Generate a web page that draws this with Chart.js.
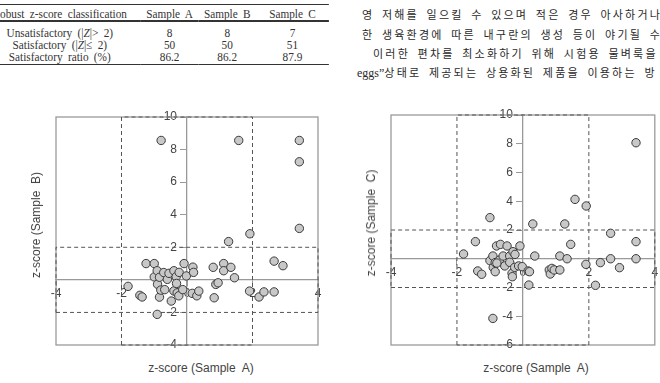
<!DOCTYPE html>
<html>
<head>
<meta charset="utf-8">
<script src="https://cdn.jsdelivr.net/npm/chart.js@4"></script>
<style>
  html, body { margin: 0; padding: 0; background: #fff; }
  body { width: 660px; height: 383px; position: relative; overflow: hidden; }

  /* summary table, top left (the scan is a little squeezed sideways) */
  #summary {
    position: absolute; left: -14px; top: 4px; width: 381px;
    transform: scaleX(0.9); transform-origin: 0 0;
    border-spacing: 0; border-top: 1px solid #333;
    font-family: "Liberation Serif", serif; font-size: 12.5px; color: #333;
    word-spacing: 2.8px; line-height: 12px;
  }
  #summary th { font-weight: normal; padding: 4px 0 0 0; line-height: 11px; border-bottom: 2px solid #333; }
  #summary td { padding: 0; text-align: center; }
  #summary tbody tr:first-child td { padding-top: 5px; }
  #summary tbody tr:last-child td { padding-bottom: 1px; border-bottom: 1.5px solid #333; }
  #summary .c1 { width: 164px; padding-right: 8px; text-align: center; }
  #summary .c2, #summary .c3 { width: 64px; }

  /* body text, top right */
  .para {
    position: absolute; white-space: nowrap;
    font-family: "Noto Sans CJK KR", sans-serif; font-size: 11px; color: #2a2a2a;
    letter-spacing: 2.2px; word-spacing: 3px; line-height: 19.5px;
  }
  .para .latin { font-family: "Liberation Serif", serif; font-size: 12px; letter-spacing: 0; }

  .plot { position: absolute; top: 100px; width: 330px; height: 260px; }
  .axis-title {
    position: absolute; white-space: pre;
    font-family: "Liberation Sans", Arial, sans-serif; font-size: 12px; color: #444;
    transform: translate(-50%, -50%);
  }
  .axis-title.vertical { transform: translate(-50%, -50%) rotate(-90deg); }
</style>
</head>
<body>

<table id="summary">
  <thead>
    <tr><th class="c1">Robust z-score classification</th><th class="c2">Sample A</th><th class="c3">Sample B</th><th>Sample C</th></tr>
  </thead>
  <tbody id="summary-body"></tbody>
</table>

<div class="para" style="left:362px; top:5px">영 저해를 일으킬 수 있으며 적은 경우 아사하거나</div>
<div class="para" style="left:362px; top:25px">한 생육환경에 따른 내구란의 생성 등이 야기될 수</div>
<div class="para" style="left:373px; top:44px">이러한 편차를 최소화하기 위해 시험용 물벼룩을 “</div>
<div class="para" style="left:357px; top:63px"><span class="latin">eggs”</span>상태로 제공되는 상용화된 제품을 이용하는 방</div>

<div class="plot" style="left:0"><canvas id="plot-b"></canvas></div>
<div class="plot" style="left:330px"><canvas id="plot-c"></canvas></div>

<div class="axis-title vertical" style="left:36px; top:225px">z-score (Sample  B)</div>
<div class="axis-title" style="left:201px; top:368px">z-score (Sample  A)</div>
<div class="axis-title vertical" style="left:371px; top:223px">z-score (Sample  C)</div>
<div class="axis-title" style="left:536px; top:368px">z-score (Sample  A)</div>

<script>
// Table rows (classification counts per sample)
const rowLabels = ['Unsatisfactory (|<i>Z</i>|&gt; 2)', 'Satisfactory (|<i>Z</i>|&le; 2)', 'Satisfactory ratio (%)'];
const countsA = ['8', '50', '86.2'];
const countsB = ['8', '50', '86.2'];
const countsC = ['7', '51', '87.9'];

const zA = [-1.80, -1.44, -1.37, -1.25, -1.00, -1.00, -0.91, -0.91, -0.90, -0.84,
            -0.84, -0.80, -0.71, -0.68, -0.60, -0.55, -0.48, -0.40, -0.40, -0.33,
            -0.32, -0.30, -0.25, -0.24, -0.13, -0.09, -0.02, 0.16, 0.18, 0.20,
            0.30, 0.36, 0.80, 0.83, 0.88, 0.95, 1.12, 1.12, 1.27, 1.34,
            1.45, 1.58, 1.91, 1.92, 2.20, 2.35, 2.66, 2.66, 2.93, 3.43,
            3.43, 3.43, -0.79];
const zB = [-0.40, -0.95, -1.05, 1.00, 1.00, 0.18, 0.56, -2.12, -0.27, -1.06,
            0.16, -0.63, 0.45, -0.60, 0.03, 0.40, -1.30, 0.56, -0.68, 0.20,
            -0.22, -0.80, -0.98, 0.46, -0.60, 1.00, 0.24, -0.83, 0.78, 0.46,
            -0.98, -0.69, 0.77, -1.10, -0.28, -0.18, 1.00, 0.56, 2.35, 0.77,
            0.13, 8.56, -0.69, 2.83, -1.05, -0.74, 1.15, -0.74, 0.87, 8.56,
            7.25, 3.16, 8.56];
const zC = [0.33, 1.19, -0.85, -1.08, 2.86, -0.13, 0.19, -4.15, -0.60, -0.90,
            -0.27, 0.89, -0.09, 1.00, 0.19, -0.50, 0.89, 0.19, -0.25, -1.01,
            -1.25, 0.49, -0.60, 0.30, -0.50, 0.89, -0.55, -0.85, -1.83, -0.90,
            2.42, 0.19, -0.78, -1.06, -0.67, -0.78, 0.19, -0.78, 2.42, 0.00,
            1.00, 4.13, -0.39, 3.67, -1.85, -0.27, 1.77, 0.00, -0.62, 8.07,
            1.19, 0.00, -0.30];

// Axis ranges and satisfactory limits
const xRange = [-4, 4];
const yRangeB = [-4, 10];
const yRangeC = [-6, 10];
const limits = [-2, 2];

// Fill the summary table
const tbody = document.getElementById('summary-body');
rowLabels.forEach((label, i) => {
  tbody.innerHTML += `<tr><td class="c1">${label}</td><td>${countsA[i]}</td><td>${countsB[i]}</td><td>${countsC[i]}</td></tr>`;
});

// Outer frame round the plotting area
const framePlugin = {
  id: 'frame',
  beforeDatasetsDraw(chart) {
    const { ctx, chartArea: a } = chart;
    ctx.save();
    ctx.strokeStyle = '#9a9a9a';
    ctx.lineWidth = 1.3;
    ctx.strokeRect(a.left, a.top, a.width, a.height);
    ctx.restore();
  }
};

const tickFont = { family: 'Liberation Sans', size: 12 };

// Build one z-score scatter plot (Sample A against another sample)
function createPlot(canvasId, yValues, yRange, padding) {
  const [lo, hi] = limits;
  // dashed band |zA| <= 2 across the full y range, and |zY| <= 2 across the full x range
  const bandX = [
    { x: lo, y: yRange[0] }, { x: lo, y: yRange[1] }, { x: hi, y: yRange[1] },
    { x: hi, y: yRange[0] }, { x: lo, y: yRange[0] }
  ];
  const bandY = [
    { x: xRange[0], y: lo }, { x: xRange[1], y: lo }, { x: xRange[1], y: hi },
    { x: xRange[0], y: hi }, { x: xRange[0], y: lo }
  ];
  const dashed = {
    type: 'scatter', showLine: true, pointRadius: 0, borderDash: [4, 3],
    borderColor: '#555', borderWidth: 1, clip: false, order: 1
  };

  return new Chart(document.getElementById(canvasId), {
    type: 'scatter',
    data: {
      datasets: [
        {
          data: zA.map((a, i) => ({ x: a, y: yValues[i] })),
          backgroundColor: '#c8c8c8',
          borderColor: '#3a3a3a',
          borderWidth: 1,
          pointRadius: 4.2,
          order: 0
        },
        { ...dashed, data: bandX },
        { ...dashed, data: bandY }
      ]
    },
    options: {
      responsive: true,
      maintainAspectRatio: false,
      animation: false,
      layout: { padding },
      plugins: { legend: { display: false }, tooltip: { enabled: false } },
      scales: {
        x: {
          type: 'linear', min: xRange[0], max: xRange[1], position: { y: 0 },
          ticks: { stepSize: 2, autoSkip: false, maxRotation: 0, color: '#444', font: tickFont, padding: 1 },
          grid: { drawOnChartArea: false, tickLength: 6, color: '#999' },
          border: { color: '#999', width: 1.3 }
        },
        y: {
          type: 'linear', min: yRange[0], max: yRange[1], position: { x: 0 },
          ticks: {
            stepSize: 2, autoSkip: false, color: '#444', font: tickFont,
            // labels of an axis placed at x = 0 sit right on the line, so pad them past the tick
            callback: v => (v === 0 ? '' : v + '   ')
          },
          grid: { drawOnChartArea: false, tickLength: 6, color: '#999' },
          border: { color: '#999', width: 1.3 }
        }
      }
    },
    plugins: [framePlugin]
  });
}

createPlot('plot-b', zB, yRangeB, { left: 56, top: 17, right: 12, bottom: 15 });
createPlot('plot-c', zC, yRangeC, { left: 61, top: 15, right: 5, bottom: 15 });
</script>
</body>
</html>
